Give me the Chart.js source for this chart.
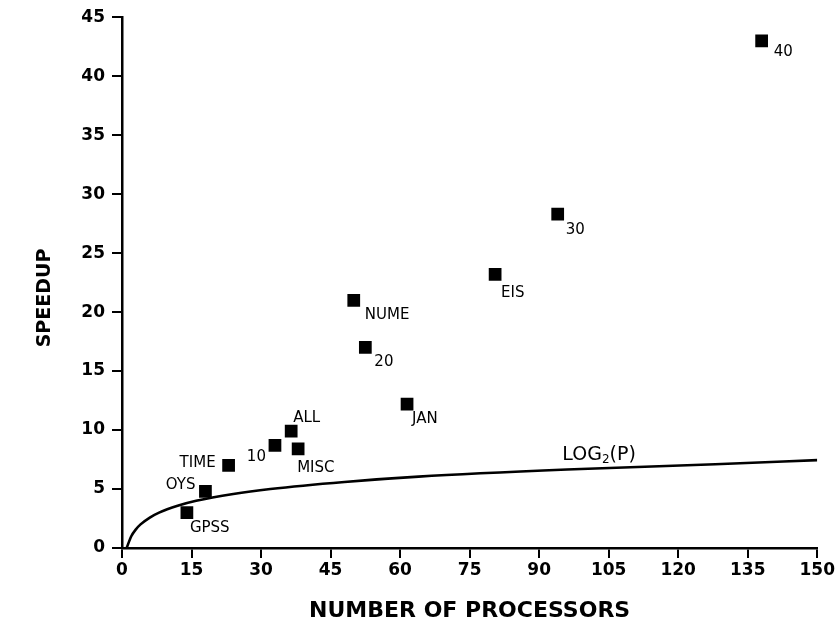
<!DOCTYPE html>
<html><head><meta charset="utf-8">
<script src="https://cdn.jsdelivr.net/npm/chart.js@4/dist/chart.umd.min.js"></script>
<style>html,body{margin:0;padding:0;background:#fff}canvas{display:block}</style>
</head><body>
<div style="width:837px;height:626px"><canvas id="c" width="837" height="626"></canvas></div>
<script>
// ---- data ----
const categories = ['GPSS','OYS','TIME','10','ALL','MISC','NUME','20','JAN','EIS','30','40'];
const processors = [14, 18, 23, 33, 36.5, 38, 50, 52.5, 61.5, 80.5, 94, 138];
const speedup    = [3.0, 4.8, 7.0, 8.7, 9.9, 8.4, 21.0, 17.0, 12.2, 23.2, 28.3, 43.0];
const curveP     = [1, 2, 3, 4, 6, 8, 12, 16, 24, 32, 48, 64, 96, 128, 150];
const curveLog2  = [0, 1.0, 1.58, 2.0, 2.58, 3.0, 3.58, 4.0, 4.58, 5.0, 5.6, 6.05, 6.65, 7.1, 7.45];
const xTickValues = [0, 15, 30, 45, 60, 75, 90, 105, 120, 135, 150];
const yTickValues = [0, 5, 10, 15, 20, 25, 30, 35, 40, 45];
const curveName = ['LOG', '2', '(P)'];
const xTitle = 'NUMBER OF PROCESSORS';
const yTitle = 'SPEEDUP';

// ---- label placement (pixel offsets from each mark) ----
const labelOffsets = [
  [3, 15, 'left'], [-10, -6, 'right'], [-13, -2, 'right'], [-9, 12, 'right'],
  [2, -13, 'left'], [-1, 19, 'left'], [11, 15, 'left'], [9, 15, 'left'],
  [5, 15, 'left'], [6, 19, 'left'], [8, 16, 'left'], [12, 11, 'left']
];
const curveLabelAt = [95, 7.9];
const yTitleAt = [45, 298];

const FONT = '"DejaVu Sans", "Liberation Sans", sans-serif';

const labelPlugin = {
  id: 'pointLabels',
  afterDatasetsDraw(chart) {
    const ctx = chart.ctx;
    const meta = chart.getDatasetMeta(0);
    ctx.save();
    ctx.fillStyle = '#000';
    ctx.textBaseline = 'middle';
    ctx.font = '15px ' + FONT;
    meta.data.forEach((el, i) => {
      const [dx, dy, al] = labelOffsets[i];
      ctx.textAlign = al;
      ctx.fillText(categories[i], el.x + dx, el.y + dy);
    });
    const xs = chart.scales.x, ys = chart.scales.y;
    let x = xs.getPixelForValue(curveLabelAt[0]);
    const y = ys.getPixelForValue(curveLabelAt[1]);
    ctx.textAlign = 'left';
    ctx.font = '19px ' + FONT;
    ctx.fillText(curveName[0], x, y);
    x += ctx.measureText(curveName[0]).width;
    ctx.font = '12px ' + FONT;
    ctx.fillText(curveName[1], x, y + 5);
    x += ctx.measureText(curveName[1]).width;
    ctx.font = '19px ' + FONT;
    ctx.fillText(curveName[2], x, y);
    // y-axis title
    ctx.translate(yTitleAt[0], yTitleAt[1]);
    ctx.rotate(-Math.PI / 2);
    ctx.textAlign = 'center';
    ctx.font = 'bold 19px ' + FONT;
    ctx.fillText(yTitle, 0, 0);
    ctx.restore();
  }
};

const tickGrid = { drawOnChartArea: false, drawTicks: true, tickLength: 10, color: '#000', lineWidth: 2 };

new Chart(document.getElementById('c'), {
  type: 'scatter',
  data: {
    datasets: [
      {
        label: 'Speedup',
        data: processors.map((p, i) => ({ x: p, y: speedup[i] })),
        pointStyle: 'rect',
        pointRadius: 9,
        pointHoverRadius: 9,
        backgroundColor: '#000',
        borderColor: '#000',
        borderWidth: 0,
        order: 0
      },
      {
        type: 'line',
        label: 'log2(P)',
        data: curveP.map((p, i) => ({ x: p, y: curveLog2[i] })),
        borderColor: '#000',
        borderWidth: 2.6,
        pointRadius: 0,
        fill: false,
        cubicInterpolationMode: 'monotone',
        order: 1
      }
    ]
  },
  options: {
    responsive: false,
    animation: false,
    devicePixelRatio: 1,
    layout: { padding: { top: 17, right: 19, left: 0, bottom: 0 } },
    plugins: { legend: { display: false }, tooltip: { enabled: false } },
    scales: {
      x: {
        type: 'linear', position: 'bottom', min: 0, max: 150,
        afterBuildTicks(s) { s.ticks = xTickValues.map(v => ({ value: v })); },
        afterFit(s) { s.height = 78; },
        grid: tickGrid,
        border: { display: true, color: '#000', width: 2.5 },
        ticks: { color: '#000', padding: 2, maxRotation: 0, autoSkip: false,
                 font: { family: FONT, size: 17, weight: 'bold' } },
        title: { display: true, text: xTitle, color: '#000',
                 font: { family: FONT, size: 22, weight: 'bold' }, padding: { top: 0, bottom: 2 } }
      },
      y: {
        type: 'linear', position: 'left', min: 0, max: 45,
        afterBuildTicks(s) { s.ticks = yTickValues.map(v => ({ value: v })); },
        afterFit(s) { s.width = 122; },
        grid: tickGrid,
        border: { display: true, color: '#000', width: 2.5 },
        ticks: { color: '#000', padding: 7, autoSkip: false,
                 font: { family: FONT, size: 17, weight: 'bold' } },
        title: { display: false }
      }
    }
  },
  plugins: [labelPlugin]
});
</script>
</body></html>
